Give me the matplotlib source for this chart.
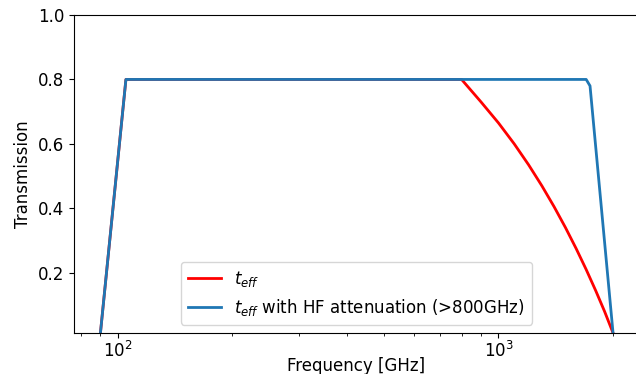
import matplotlib
matplotlib.use("Agg")
import matplotlib.pyplot as plt

# Effective transmission (GHz -> transmission)
freq_teff = [90, 105, 800, 900, 1000, 1100, 1200, 1300, 1400, 1500, 1600,
             1700, 1800, 1900, 2000]
teff = [0.013, 0.80, 0.80, 0.73, 0.665, 0.60, 0.535, 0.47, 0.405, 0.34,
        0.275, 0.21, 0.145, 0.08, 0.013]

# Transmission with high-frequency attenuation applied above 800 GHz
freq_hf = [90, 105, 800, 1000, 1500, 1700, 1740, 2000]
teff_hf = [0.013, 0.80, 0.80, 0.80, 0.80, 0.80, 0.78, 0.013]

plt.rcParams["font.size"] = 12

fig = plt.figure(figsize=(6.36, 3.74), dpi=100)
ax = fig.add_axes([74 / 636, 1 - 333 / 374, 565 / 636, 318 / 374])

ax.plot(freq_teff, teff, color="red", lw=2, label=r"$t_{eff}$")
ax.plot(freq_hf, teff_hf, color="#1f77b4", lw=2,
        label=r"$t_{eff}$ with HF attenuation (>800GHz)")

ax.set_xscale("log")
ax.set_xlim(76.7, 2340)
ax.set_ylim(0.013, 1.0)
ax.set_yticks([0.2, 0.4, 0.6, 0.8, 1.0])
ax.tick_params(axis="x", which="major", pad=2)
ax.set_xlabel("Frequency [GHz]", labelpad=-3)
ax.set_ylabel("Transmission")
ax.legend(loc="lower center")

fig.savefig("out.png", dpi=100)
